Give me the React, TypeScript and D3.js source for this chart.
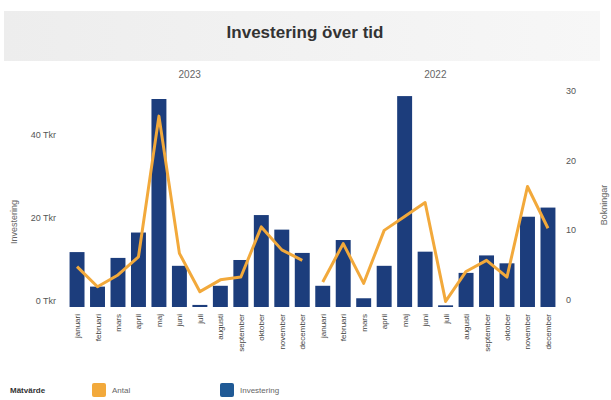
import React, { useEffect, useRef } from 'react';
import * as d3 from 'd3';

// Data
const years = ['2023', '2022'];
const months = ['januari', 'februari', 'mars', 'april', 'maj', 'juni', 'juli', 'augusti', 'september', 'oktober', 'november', 'december'];
// Investering (Tkr) per month
const invest2023 = [13.2, 4.9, 11.8, 17.9, 50.0, 9.9, 0.5, 5.1, 11.3, 22.1, 18.6, 13.0];
const invest2022 = [5.1, 16.1, 2.1, 9.9, 50.7, 13.3, 0.4, 8.2, 12.4, 10.5, 21.7, 23.9];
// Antal per month
const antal2023 = [5.8, 2.9, 4.6, 7.2, 27.4, 7.7, 2.2, 3.9, 4.3, 11.5, 8.2, 6.7];
const antal2022 = [3.6, 9.1, 3.4, 11.0, 13.0, 15.0, 0.8, 5.1, 6.7, 4.3, 17.3, 11.3];
const leftTicks = [0, 20, 40];
const rightTicks = [0, 10, 20, 30];

const W = 611;
const H = 400;

export default function App() {
  const ref = useRef<SVGSVGElement>(null);

  useEffect(() => {
    const svg = d3.select(ref.current);
    svg.selectAll('*').remove();

    const font = '"Liberation Sans", Arial, sans-serif';
    const rows = years.flatMap((yr, i) =>
      months.map((m, j) => ({
        key: `${yr}-${m}`,
        year: yr,
        month: m,
        invest: i === 0 ? invest2023[j] : invest2022[j],
        antal: i === 0 ? antal2023[j] : antal2022[j],
      }))
    );

    const x = d3.scaleBand<string>()
      .domain(rows.map(d => d.key))
      .range([66.8, 558.2])
      .paddingInner(0.27)
      .paddingOuter(0.135);
    const yL = d3.scaleLinear().domain([0, 50]).range([307, 99]);
    const yR = d3.scaleLinear().domain([0, 30]).range([307, 98]);

    // title banner
    const defs = svg.append('defs');
    const grad = defs.append('linearGradient').attr('id', 'banner');
    grad.append('stop').attr('offset', '0%').attr('stop-color', '#ededed');
    grad.append('stop').attr('offset', '50%').attr('stop-color', '#f2f2f2');
    grad.append('stop').attr('offset', '100%').attr('stop-color', '#f7f7f7');
    svg.append('rect')
      .attr('x', 4).attr('y', 11).attr('width', 596).attr('height', 50)
      .attr('fill', 'url(#banner)');
    svg.append('text')
      .attr('x', 305).attr('y', 38)
      .attr('text-anchor', 'middle')
      .attr('font-family', font).attr('font-weight', 'bold').attr('font-size', 17)
      .attr('fill', '#333')
      .text('Investering över tid');

    // year headers
    years.forEach(yr => {
      const keys = rows.filter(r => r.year === yr).map(r => r.key);
      const cx = ((x(keys[0]) ?? 0) + (x(keys[keys.length - 1]) ?? 0) + x.bandwidth()) / 2;
      svg.append('text')
        .attr('x', cx).attr('y', 78)
        .attr('text-anchor', 'middle')
        .attr('font-family', font).attr('font-size', 10)
        .attr('fill', '#666')
        .text(yr);
    });

    // bars
    svg.append('g')
      .selectAll('rect')
      .data(rows)
      .join('rect')
      .attr('x', d => x(d.key) ?? 0)
      .attr('y', d => yL(d.invest))
      .attr('width', x.bandwidth())
      .attr('height', d => yL(0) - yL(d.invest))
      .attr('fill', '#1c3d7c');

    // lines (one per year)
    const line = d3.line<typeof rows[number]>()
      .x(d => (x(d.key) ?? 0) + x.bandwidth() / 2)
      .y(d => yR(d.antal));
    years.forEach(yr => {
      svg.append('path')
        .datum(rows.filter(r => r.year === yr))
        .attr('d', line)
        .attr('fill', 'none')
        .attr('stroke', '#f2a93b')
        .attr('stroke-width', 3)
        .attr('stroke-linejoin', 'round');
    });

    // left axis labels
    svg.append('g')
      .selectAll('text')
      .data(leftTicks)
      .join('text')
      .attr('x', 56).attr('y', d => yL(d) - 3)
      .attr('text-anchor', 'end')
      .attr('font-family', font).attr('font-size', 9)
      .attr('fill', '#555')
      .text(d => `${d} Tkr`);

    // right axis labels
    svg.append('g')
      .selectAll('text')
      .data(rightTicks)
      .join('text')
      .attr('x', 566).attr('y', d => yR(d) - 4)
      .attr('font-family', font).attr('font-size', 9)
      .attr('fill', '#555')
      .text(d => d);

    // axis titles
    svg.append('text')
      .attr('transform', 'translate(17,222) rotate(-90)')
      .attr('text-anchor', 'middle')
      .attr('font-family', font).attr('font-size', 9)
      .attr('fill', '#666')
      .text('Investering');
    svg.append('text')
      .attr('transform', 'translate(607,205) rotate(-90)')
      .attr('text-anchor', 'middle')
      .attr('font-family', font).attr('font-size', 9)
      .attr('fill', '#666')
      .text('Bokningar');

    // month labels
    svg.append('g')
      .selectAll('text')
      .data(rows)
      .join('text')
      .attr('transform', d => `translate(${(x(d.key) ?? 0) + x.bandwidth() / 2 + 3},314) rotate(-90)`)
      .attr('text-anchor', 'end')
      .attr('font-family', font).attr('font-size', 8)
      .attr('fill', '#444')
      .text(d => d.month);

    // legend
    const lg = svg.append('g').attr('font-family', font);
    lg.append('text')
      .attr('x', 10).attr('y', 393)
      .attr('font-size', 8).attr('font-weight', 'bold').attr('fill', '#333')
      .text('Mätvärde');
    const items = [
      { label: 'Antal', color: '#f2a93b', x: 92 },
      { label: 'Investering', color: '#1f5a96', x: 220 },
    ];
    items.forEach(it => {
      lg.append('rect')
        .attr('x', it.x).attr('y', 383).attr('width', 14).attr('height', 14)
        .attr('rx', 2)
        .attr('fill', it.color);
      lg.append('text')
        .attr('x', it.x + 20).attr('y', 393)
        .attr('font-size', 8).attr('fill', '#666')
        .text(it.label);
    });
  }, []);

  return (
    <svg
      ref={ref}
      width={W}
      height={H}
      style={{ position: 'absolute', left: 0, top: 0, background: '#fff' }}
    />
  );
}
